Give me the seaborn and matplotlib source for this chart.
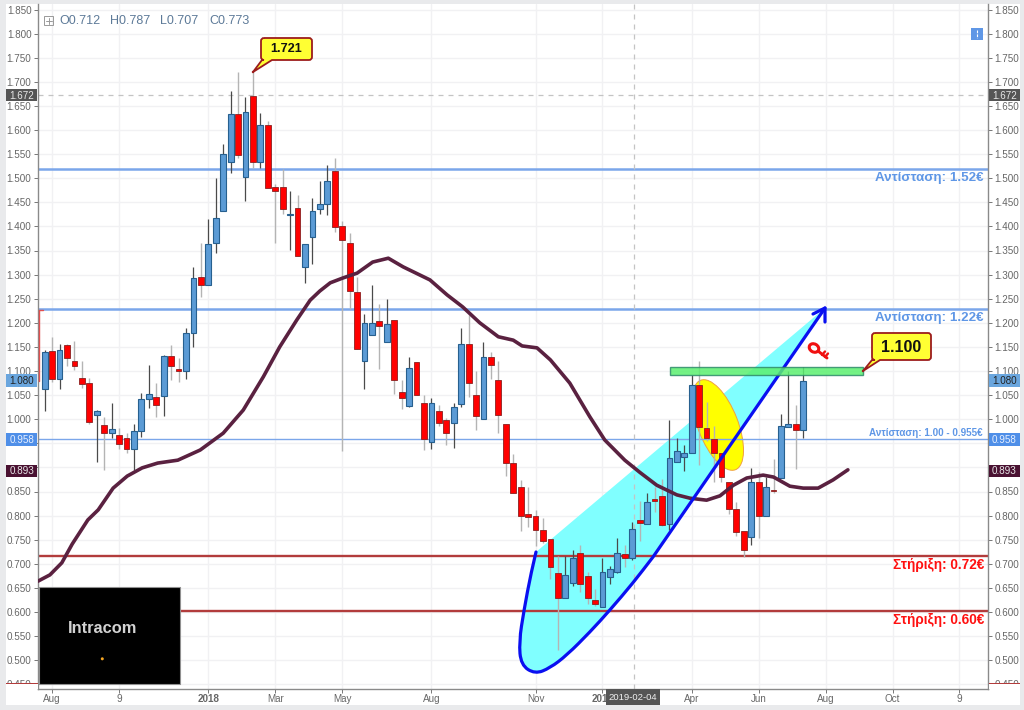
import numpy as np
import pandas as pd
import matplotlib
matplotlib.use("Agg")
import matplotlib.pyplot as plt
import seaborn as sns
from matplotlib.patches import Rectangle, Ellipse, Circle, PathPatch
from matplotlib.path import Path
from matplotlib.transforms import Affine2D

# weekly candles
opens = [1.063, 1.1415, 1.083, 1.154, 1.120, 1.085, 1.076, 1.009, 0.989, 0.971,
         0.968, 0.961, 0.938, 0.975, 1.042, 1.047, 1.048, 1.131, 1.105, 1.099,
         1.178, 1.295, 1.279, 1.365, 1.432, 1.534, 1.634, 1.502, 1.671, 1.534,
         1.610, 1.481, 1.481, 1.423, 1.439, 1.316, 1.377, 1.436, 1.446, 1.514,
         1.400, 1.366, 1.264, 1.120, 1.175, 1.204, 1.161, 1.206, 1.056, 1.028,
         1.119, 1.033, 0.953, 1.018, 0.998, 0.993, 1.031, 1.155, 1.050, 1.000,
         1.130, 1.082, 0.990, 0.910, 0.860, 0.803, 0.800, 0.770, 0.751, 0.681,
         0.630, 0.661, 0.722, 0.675, 0.624, 0.611, 0.672, 0.682, 0.720, 0.712,
         0.790, 0.782, 0.835, 0.840, 0.782, 0.912, 0.921, 0.929, 1.070, 0.982,
         0.959, 0.929, 0.870, 0.814, 0.769, 0.756, 0.870, 0.800, 0.854, 0.877,
         0.984, 0.991, 0.977]
highs = [1.144, 1.170, 1.156, 1.156, 1.163, 1.121, 1.086, 1.020, 1.004, 1.033,
         0.981, 0.972, 0.990, 1.054, 1.112, 1.076, 1.133, 1.154, 1.126, 1.189,
         1.316, 1.366, 1.415, 1.500, 1.570, 1.680, 1.720, 1.669, 1.721, 1.635,
         1.619, 1.488, 1.520, 1.474, 1.466, 1.363, 1.458, 1.495, 1.527, 1.541,
         1.411, 1.386, 1.296, 1.218, 1.278, 1.240, 1.249, 1.206, 1.081, 1.130,
         1.119, 1.050, 1.045, 1.029, 1.002, 1.033, 1.189, 1.216, 1.100, 1.161,
         1.140, 1.121, 0.990, 0.927, 0.873, 0.860, 0.812, 0.796, 0.751, 0.716,
         0.716, 0.729, 0.740, 0.682, 0.647, 0.711, 0.695, 0.753, 0.739, 0.787,
         0.831, 0.846, 0.860, 0.875, 0.998, 0.960, 0.946, 1.092, 1.121, 1.035,
         0.986, 0.929, 0.870, 0.829, 0.769, 0.898, 0.891, 0.881, 0.917, 1.010,
         1.101, 1.029, 1.109]
lows = [1.017, 1.0765, 1.063, 1.111, 1.102, 1.065, 0.991, 0.912, 0.894, 0.960,
        0.939, 0.929, 0.895, 0.964, 1.023, 1.005, 1.007, 1.081, 1.078, 1.083,
        1.150, 1.254, 1.279, 1.344, 1.432, 1.510, 1.541, 1.452, 1.522, 1.522,
        1.480, 1.366, 1.426, 1.351, 1.339, 1.282, 1.323, 1.426, 1.424, 1.389,
        0.933, 1.228, 1.146, 1.063, 1.175, 1.105, 1.161, 1.052, 1.022, 1.026,
        1.050, 0.936, 0.938, 0.985, 0.946, 0.940, 1.025, 1.047, 0.978, 1.000,
        1.083, 0.971, 0.882, 0.846, 0.769, 0.777, 0.737, 0.743, 0.669, 0.521,
        0.630, 0.654, 0.642, 0.617, 0.613, 0.611, 0.658, 0.680, 0.694, 0.707,
        0.748, 0.782, 0.808, 0.778, 0.771, 0.912, 0.893, 0.929, 0.906, 0.955,
        0.870, 0.870, 0.803, 0.758, 0.715, 0.738, 0.753, 0.800, 0.847, 0.877,
        0.984, 0.896, 0.962]
closes = [1.139, 1.083, 1.144, 1.128, 1.111, 1.074, 0.994, 1.017, 0.971, 0.980,
          0.949, 0.938, 0.975, 1.042, 1.052, 1.029, 1.132, 1.110, 1.099, 1.178,
          1.292, 1.279, 1.364, 1.417, 1.551, 1.634, 1.549, 1.637, 1.533, 1.610,
          1.480, 1.473, 1.437, 1.425, 1.339, 1.363, 1.432, 1.446, 1.494, 1.399,
          1.372, 1.265, 1.146, 1.199, 1.199, 1.194, 1.197, 1.081, 1.043, 1.106,
          1.050, 0.959, 1.033, 0.993, 0.971, 1.025, 1.155, 1.076, 1.007, 1.130,
          1.112, 1.009, 0.910, 0.846, 0.800, 0.798, 0.770, 0.747, 0.693, 0.630,
          0.676, 0.711, 0.658, 0.630, 0.617, 0.684, 0.690, 0.722, 0.713, 0.773,
          0.784, 0.829, 0.830, 0.780, 0.919, 0.933, 0.929, 1.070, 0.983, 0.962,
          0.929, 0.881, 0.814, 0.765, 0.729, 0.870, 0.800, 0.860, 0.851, 0.985,
          0.991, 0.977, 1.080]

# moving average
ma_week = [-0.9, 0.7, 2.3, 3.7, 5.8, 7.2, 9.2, 11.1, 13.1, 15.2, 17.9, 20.9, 24.0,
           26.7, 29.4, 31.6, 33.9, 35.7, 37.0, 38.4, 40.1, 42.0, 44.1, 46.2, 48.2,
           51.8, 54.1, 56.2, 58.5, 61.0, 63.0, 64.2, 66.2, 68.0, 70.6, 73.3, 75.3,
           78.0, 80.0, 82.3, 85.0, 86.8, 89.0, 90.8, 92.6, 94.4, 96.6, 98.0, 100.2,
           102.0, 104.0, 106.0, 108.0]
ma_value = [0.664, 0.677, 0.702, 0.741, 0.791, 0.812, 0.857, 0.882, 0.899, 0.909,
            0.915, 0.936, 0.971, 1.019, 1.088, 1.150, 1.206, 1.247, 1.266, 1.283,
            1.293, 1.303, 1.326, 1.334, 1.316, 1.289, 1.258, 1.233, 1.200, 1.171,
            1.164, 1.152, 1.148, 1.123, 1.075, 1.005, 0.957, 0.915, 0.890, 0.863,
            0.843, 0.836, 0.832, 0.841, 0.863, 0.878, 0.884, 0.880, 0.861, 0.857,
            0.857, 0.874, 0.895]

# axis labels
y_ticks = [0.45 + 0.05 * i for i in range(29)]
hidden_y_labels = ["0.900", "0.950"]  # sit under the price tags
x_tick_weeks = [1, 10, 22, 31, 40, 52, 66, 75, 87, 96, 105, 114, 123]
x_tick_labels = ["Aug", "9", "2018", "Mar", "May", "Aug", "Nov", "2019", "Apr", "Jun", "Aug", "Oct", "9"]
bold_labels = ["2018", "2019"]

# price levels and last-value tags
level_res = [1.519, 1.2287]
level_res_thin = 0.958
level_sup = [0.716, 0.602]
tag_values = [1.672, 1.080, 0.958, 0.893]
tag_names = ["1.672", "1.080", "0.958", "0.893"]
cross_week = 79.25
cross_price = 1.672

W, H = 1024, 710
sns.set_theme(style="whitegrid")
plt.rcParams['font.family'] = ['Liberation Sans', 'DejaVu Sans']

BLUE = "#5b9bd5"
BLUE_EDGE = "#27608f"
RED = "#ff0000"
RED_EDGE = "#8a2020"
GREY_TXT = "#666666"
LINE_BLUE = "#7ba6ea"
LINE_RED = "#b23c3c"
TXT_BLUE = "#5f97e6"

fig = plt.figure(figsize=(W / 100, H / 100), dpi=100, facecolor="#e9eaec")
L, R, T, B = 37.7, 988, 4, 688.5
ax = fig.add_axes([L / W, 1 - B / H, (R - L) / W, (B - T) / H])
pix = Affine2D().scale(1, -1).translate(0, H)  # image pixels, for the hand drawn bits

fig.add_artist(Rectangle((6, 4), 1014, 701, transform=pix, fc="white", ec="none", zorder=-5))

df = pd.DataFrame({"open": opens, "high": highs, "low": lows, "close": closes})
df["week"] = np.arange(len(df))
df["up"] = df["close"] >= df["open"]
ups = df[df["up"]]
downs = df[~df["up"]]

ax.set_xlim((L - 44.7) / 7.437, (R - 44.7) / 7.437)
ax.set_ylim(1.85 - (B - 9.5) / 482, 1.85 - (T - 9.5) / 482)
ax.set_facecolor("none")
ax.grid(True, color="#f1f1f3", lw=1)
ax.set_axisbelow(True)


def smooth_path(pts, closed=False):
    # quadratic segments through midpoints, the last point joined straight
    verts, codes = [pts[0]], [Path.MOVETO]
    for i in range(1, len(pts) - 2):
        mid = ((pts[i][0] + pts[i + 1][0]) / 2, (pts[i][1] + pts[i + 1][1]) / 2)
        verts += [pts[i], mid]
        codes += [Path.CURVE3, Path.CURVE3]
    verts += [pts[-2], pts[-1]]
    codes += [Path.LINETO, Path.LINETO]
    if closed:
        verts.append(pts[0])
        codes.append(Path.CLOSEPOLY)
    return Path(verts, codes)


# trend ribbon under the candles
outline = [(536, 552), (531, 573), (524, 610), (519, 642), (521, 665), (535, 674), (550, 668),
           (567, 655), (590, 632), (610, 610), (633, 583), (653, 557), (825, 308)]
ax.add_patch(PathPatch(smooth_path(outline, closed=True), transform=pix, fc="#80ffff", ec="none", zorder=1.2))
ax.add_patch(Ellipse((718, 425), 96, 40, angle=68.7, transform=pix, fc="#ffff00", ec="#f0a040", lw=0.7, zorder=1.3))

# levels
for v in level_res:
    ax.axhline(v, color=LINE_BLUE, lw=1.8, zorder=1.5)
ax.axhline(level_res_thin, color=LINE_BLUE, lw=1.0, zorder=1.5)
for v in level_sup:
    ax.axhline(v, color=LINE_RED, lw=1.7, zorder=1.5)
ax.axhline(cross_price, color="#c4c4c4", lw=0.9, ls=(0, (4, 4)), zorder=1.5)
ax.axvline(cross_week, color="#c4c4c4", lw=0.9, ls=(0, (4, 4)), zorder=1.5)

# candles
ax.vlines(ups["week"], ups["low"], ups["high"], color="#4a4a4a", lw=0.9, zorder=2)
ax.vlines(downs["week"], downs["low"], downs["high"], color="#b4b4b4", lw=1.0, zorder=2)
ax.bar(ups["week"], ups["close"] - ups["open"], bottom=ups["open"], width=0.78,
       color=BLUE, edgecolor=BLUE_EDGE, lw=0.8, zorder=2.2)
ax.bar(downs["week"], downs["open"] - downs["close"], bottom=downs["close"], width=0.78,
       color=RED, edgecolor=RED_EDGE, lw=0.6, zorder=2.2)

# moving average
ma = pd.DataFrame({"week": ma_week, "value": ma_value})
sns.lineplot(data=ma, x="week", y="value", ax=ax, color="#5a2140", lw=2.6, sort=False,
             errorbar=None, zorder=3)

# blue trend outline and arrow head
ax.add_patch(PathPatch(smooth_path(outline), transform=pix, fc="none", ec="#0a10f0", lw=2.3,
                       capstyle="round", zorder=3.5))
ax.plot([813, 825, 825], [314, 308, 322], transform=pix, color="#0a10f0", lw=2.3, zorder=3.5)

# key icon
ax.add_patch(Ellipse((814, 348), 10, 8, angle=30, transform=pix, fc="none", ec="#f01010", lw=2.2, zorder=4))
ax.plot([818, 827], [351, 358], transform=pix, color="#f01010", lw=2.1, zorder=4)
ax.plot([822, 825], [355, 351.5], transform=pix, color="#f01010", lw=1.7, zorder=4)
ax.plot([825, 828], [357, 353.5], transform=pix, color="#f01010", lw=1.7, zorder=4)

# green band
ax.add_patch(Rectangle((670, 367), 193, 8, transform=pix, fc="#5cf070", ec="#2e8b6a", lw=1.0, alpha=0.85, zorder=4))

# axes cosmetics
ax.set_xlabel("")
ax.set_ylabel("")
ax.set_yticks(y_ticks)
ax.set_yticklabels(["" if "%.3f" % v in hidden_y_labels else "%.3f" % v for v in y_ticks])
ax.set_xticks(x_tick_weeks)
ax.set_xticklabels(x_tick_labels)
ax.tick_params(axis="y", which="both", left=True, right=True, labelleft=True, labelright=True,
               length=3, width=0.7, color="#777777", labelcolor=GREY_TXT, labelsize=7.1, pad=1.5)
ax.tick_params(axis="x", bottom=True, length=3, width=0.7, color="#777777", labelcolor=GREY_TXT,
               labelsize=7.1, pad=1)
for lab in ax.get_xticklabels():
    if lab.get_text() in bold_labels:
        lab.set_fontweight("bold")
for name in ["left", "right", "bottom"]:
    ax.spines[name].set_color("#8a8a8a")
    ax.spines[name].set_linewidth(1.0)
ax.spines["top"].set_visible(False)


def over(patch):
    patch.set_transform(pix)
    patch.set_clip_on(False)
    ax.add_patch(patch)


def label(x, y, s, **kw):
    kw.setdefault("va", "center")
    kw.setdefault("zorder", 8)
    ax.text(x, y, s, transform=pix, clip_on=False, **kw)


def callout(x0, y0, x1, y1, tip, b0, b1, r=3):
    verts = [(x0 + r, y0), (x1 - r, y0), (x1, y0), (x1, y0 + r), (x1, y1 - r), (x1, y1), (x1 - r, y1),
             (b1, y1), tip, (b0, y1), (x0 + r, y1), (x0, y1), (x0, y1 - r), (x0, y0 + r), (x0, y0), (x0 + r, y0)]
    codes = [Path.MOVETO, Path.LINETO, Path.CURVE3, Path.CURVE3, Path.LINETO, Path.CURVE3, Path.CURVE3,
             Path.LINETO, Path.LINETO, Path.LINETO, Path.LINETO, Path.CURVE3, Path.CURVE3, Path.LINETO,
             Path.CURVE3, Path.CURVE3]
    over(PathPatch(Path(verts, codes), fc="#ffff33", ec="#9c1c1c", lw=1.3, zorder=7))
    over(Circle(tip, 1.2, fc="#9c1c1c", ec="none", zorder=7.5))


callout(261, 38, 312, 60, (253, 72), 262, 272)
label(286.5, 49.5, "1.721", ha="center", fontsize=9.2, fontweight="bold", color="#111111")
callout(872, 333, 931, 360, (863, 371), 872, 880)
label(901.5, 347, "1.100", ha="center", fontsize=11.6, fontweight="bold", color="#111111")

# price tags on both sides
tag_bg = ["#555555", "#6aa6de", "#4f8fe8", "#4a1232"]
tag_fg = ["#e8e8e8", "#222222", "#e8f0ff", "#e8e8e8"]
for val, name, bg, fg in zip(tag_values, tag_names, tag_bg, tag_fg):
    yp = 9.5 + (1.85 - val) * 482
    for x0, w, cx in [(6, 31, 21.5), (989, 31, 1004.5)]:
        over(Rectangle((x0, yp - 6.2), w, 12.4, fc=bg, ec="none", zorder=6))
        label(cx, yp + 0.3, name, ha="center", fontsize=7.1, color=fg)

# clipped bottom line tag
for x0, w in [(6, 31.5), (988.5, 31.5)]:
    over(Rectangle((x0, 684), w, 4.5, fc="white", ec="none", zorder=6))
    over(Rectangle((x0, 683), w, 1.3, fc=LINE_RED, ec="none", zorder=6.5))

# crosshair date tag
over(Rectangle((606, 689), 54, 16, fc="#555555", ec="none", zorder=6))
label(633, 697.5, "2019-02-04", ha="center", fontsize=6.8, color="#f0f0f0")

# black logo box
over(Rectangle((38.7, 587), 141, 96.5, fc="black", ec="#909090", lw=0.8, zorder=5))
label(102.5, 628.5, "Intracom", ha="center", fontsize=11.8, fontweight="bold", color="#d2d2d2")
over(Circle((102.3, 658.8), 1.5, fc="#f5a623", ec="none", zorder=8))

# OHLC legend
over(Rectangle((44, 16), 9, 9, fc="none", ec="#999999", lw=0.7, zorder=7))
ax.plot([45.5, 51.5], [20.5, 20.5], transform=pix, color="#999999", lw=0.7, clip_on=False, zorder=7)
ax.plot([48.5, 48.5], [17.5, 23.5], transform=pix, color="#999999", lw=0.7, clip_on=False, zorder=7)
for x, s in zip([59, 110, 160, 209], ["O0.712", "H0.787", "L0.707", "C0.773"]):
    label(x, 21.5, s, fontsize=9.0, color="#5d7a98")

# scale icon top right
over(Rectangle((971, 28), 12, 12, fc="#5f97e6", ec="none", zorder=7))
ax.plot([977, 977], [30, 38], transform=pix, color="white", lw=0.8, ls=(0, (2.5, 1)), zorder=7.5)

# hand written notes
label(984, 178, "Αντίσταση: 1.52€", ha="right", fontsize=9.6, fontweight="bold", color=TXT_BLUE)
label(984, 318.5, "Αντίσταση: 1.22€", ha="right", fontsize=9.6, fontweight="bold", color=TXT_BLUE)
label(983, 433, "Αντίσταση: 1.00 - 0.955€", ha="right", fontsize=7.1, fontweight="bold", color=TXT_BLUE)
label(984, 565, "Στήριξη: 0.72€", ha="right", fontsize=9.8, fontweight="bold", color="#ff1010")
label(984, 620, "Στήριξη: 0.60€", ha="right", fontsize=9.8, fontweight="bold", color="#ff1010")

# small red bar at the left edge
ax.plot([39, 39], [310, 381], transform=pix, color="#e05050", lw=1.0, zorder=4, clip_on=False)
ax.plot([39, 43], [310, 310], transform=pix, color="#e05050", lw=1.0, zorder=4, clip_on=False)

fig.savefig("out.png", dpi=100, facecolor=fig.get_facecolor())
